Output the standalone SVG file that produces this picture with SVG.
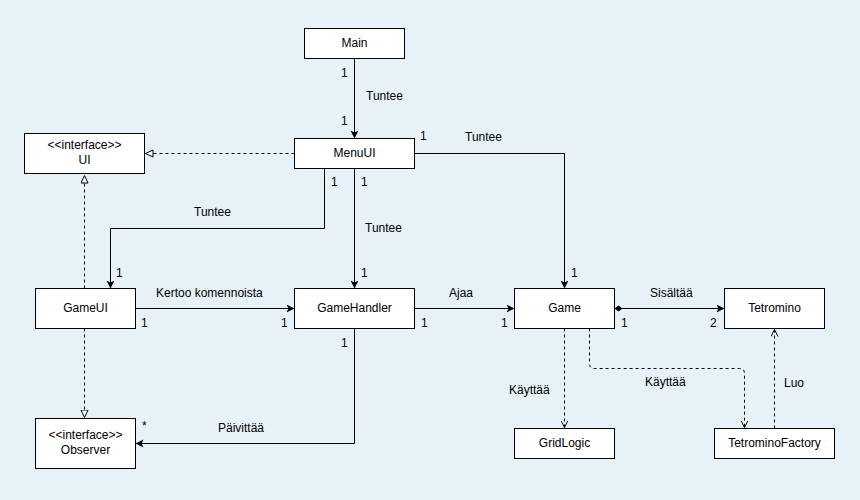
<svg xmlns="http://www.w3.org/2000/svg" width="860" height="500" viewBox="0 0 860 500">
<style>
.box{fill:#fff;stroke:#000;stroke-width:1}
.t{font-family:"Liberation Sans",Arial,sans-serif;font-size:12px;fill:#000}
.c{text-anchor:middle}
.ln{fill:none;stroke:#000;stroke-width:1}
.d{stroke-dasharray:3,3}
</style>
<defs>
<marker id="arr" markerWidth="10" markerHeight="10" refX="7" refY="4" orient="auto" markerUnits="userSpaceOnUse">
<path d="M0,0 L8,4 L0,8 L2,4 Z" fill="#000"/>
</marker>
<marker id="tri" markerWidth="10" markerHeight="10" refX="8" refY="4" orient="auto" markerUnits="userSpaceOnUse">
<path d="M0.5,0.5 L8,4 L0.5,7.5 Z" fill="#fff" stroke="#000" stroke-width="1"/>
</marker>
<marker id="open" markerWidth="10" markerHeight="10" refX="7" refY="4" orient="auto" markerUnits="userSpaceOnUse">
<path d="M0,0.5 L7,4 L0,7.5" fill="none" stroke="#000" stroke-width="1"/>
</marker>
<marker id="dia" markerWidth="14" markerHeight="10" refX="1" refY="4" orient="auto" markerUnits="userSpaceOnUse">
<path d="M1,4 L5,1 L9,4 L5,7 Z" fill="#000"/>
</marker>
</defs>
<rect width="860" height="500" fill="#e7f2f8"/>
<g id="connectors">
<g transform="translate(0.5,0.5)">
<path class="ln" d="M354,58 V137" marker-end="url(#arr)"/>
<path class="ln d" d="M294,153 H145" marker-end="url(#tri)"/>
<path class="ln" d="M414,153 H564 V287" marker-end="url(#arr)"/>
<path class="ln" d="M324,168 V228 H110 V287" marker-end="url(#arr)"/>
<path class="ln" d="M354,168 V287" marker-end="url(#arr)"/>
<path class="ln" d="M135,308 H293" marker-end="url(#arr)"/>
<path class="ln d" d="M84,288 V175" marker-end="url(#tri)"/>
<path class="ln d" d="M84,328 V417" marker-end="url(#tri)"/>
<path class="ln" d="M414,308 H513" marker-end="url(#arr)"/>
<path class="ln" d="M354,328 V443 H136" marker-end="url(#arr)"/>
<path class="ln" d="M614,308 H723" marker-start="url(#dia)" marker-end="url(#arr)"/>
<path class="ln d" d="M564,328 V427" marker-end="url(#open)"/>
<path class="ln d" d="M589,328 V363 Q589,368 594,368 H739 Q744,368 744,373 V427" marker-end="url(#open)"/>
<path class="ln d" d="M774,428 V329" marker-end="url(#open)"/>
</g>
<text class="t" x="341" y="77">1</text>
<text class="t" x="341" y="125">1</text>
<text class="t" x="366" y="100">Tuntee</text>
<text class="t" x="420" y="140">1</text>
<text class="t" x="465" y="141">Tuntee</text>
<text class="t" x="571" y="277">1</text>
<text class="t" x="331" y="186">1</text>
<text class="t" x="194" y="216">Tuntee</text>
<text class="t" x="116" y="277">1</text>
<text class="t" x="361" y="186">1</text>
<text class="t" x="365" y="232">Tuntee</text>
<text class="t" x="361" y="277">1</text>
<text class="t" x="156" y="297">Kertoo komennoista</text>
<text class="t" x="141" y="327">1</text>
<text class="t" x="281" y="327">1</text>
<text class="t" x="449" y="297">Ajaa</text>
<text class="t" x="421" y="327">1</text>
<text class="t" x="501" y="327">1</text>
<text class="t" x="341" y="347">1</text>
<text class="t" x="142" y="430">*</text>
<text class="t" x="218" y="432">Päivittää</text>
<text class="t" x="650" y="297">Sisältää</text>
<text class="t" x="621" y="327">1</text>
<text class="t" x="710" y="327">2</text>
<text class="t" x="509" y="394">Käyttää</text>
<text class="t" x="645" y="386">Käyttää</text>
<text class="t" x="784" y="387">Luo</text>
</g>
<g id="Main"><rect class="box" x="304.5" y="28.5" width="100" height="30"/><text class="t c" x="354.5" y="47">Main</text></g>
<g id="MenuUI"><rect class="box" x="294.5" y="138.5" width="120" height="30"/><text class="t c" x="354.5" y="157">MenuUI</text></g>
<g id="UI"><rect class="box" x="24.5" y="133.5" width="120" height="40"/><text class="t c" x="84.5" y="149">&lt;&lt;interface&gt;&gt;</text><text class="t c" x="84.5" y="164">UI</text></g>
<g id="GameUI"><rect class="box" x="35.5" y="288.5" width="100" height="40"/><text class="t c" x="85.5" y="312">GameUI</text></g>
<g id="GameHandler"><rect class="box" x="294.5" y="288.5" width="120" height="40"/><text class="t c" x="354.5" y="312">GameHandler</text></g>
<g id="Game"><rect class="box" x="514.5" y="288.5" width="100" height="40"/><text class="t c" x="564.5" y="312">Game</text></g>
<g id="Tetromino"><rect class="box" x="724.5" y="288.5" width="100" height="40"/><text class="t c" x="774.5" y="312">Tetromino</text></g>
<g id="GridLogic"><rect class="box" x="514.5" y="428.5" width="100" height="30"/><text class="t c" x="564.5" y="447">GridLogic</text></g>
<g id="TetrominoFactory"><rect class="box" x="714.5" y="428.5" width="120" height="30"/><text class="t c" x="774.5" y="447">TetrominoFactory</text></g>
<g id="Observer"><rect class="box" x="35.5" y="418.5" width="100" height="50"/><text class="t c" x="85.5" y="439">&lt;&lt;interface&gt;&gt;</text><text class="t c" x="85.5" y="454">Observer</text></g>
</svg>
